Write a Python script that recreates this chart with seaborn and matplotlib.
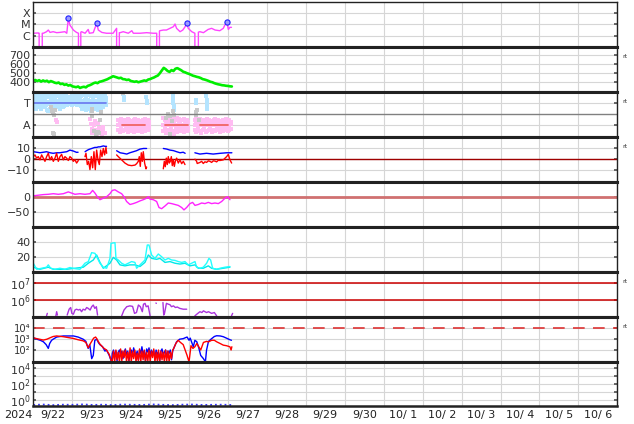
import numpy as np
import pandas as pd
import matplotlib
matplotlib.use("Agg")
import matplotlib.pyplot as plt
from matplotlib.ticker import NullLocator
import seaborn as sns

# ---------------- data (time in days since 2024-09-22 00:00 UT) ----------------
date_labels = ["9/22", "9/23", "9/24", "9/25", "9/26", "9/27", "9/28", "9/29", "9/30",
               "10/ 1", "10/ 2", "10/ 3", "10/ 4", "10/ 5", "10/ 6"]

# X-ray flux (W/m2); 1e-8 = data dropout
flare_points = [(0.00, 1.6e-6), (0.13, 1.7e-6), (0.15, 1.6e-6), (0.15, 1e-8), (0.23, 1e-8), (0.23, 1.6e-6),
                (0.26, 1.6e-6), (0.34, 2.2e-6), (0.385, 3.1e-6), (0.43, 1.9e-6), (0.51, 2.2e-6), (0.60, 1.8e-6),
                (0.68, 1.9e-6), (0.81, 2.2e-6), (0.86, 1.6e-6), (0.90, 3.5e-5), (0.94, 8.7e-6), (1.03, 3.1e-6),
                (1.11, 1.9e-6), (1.16, 1.6e-6), (1.16, 1e-8), (1.22, 1e-8), (1.22, 2.0e-6), (1.24, 2.2e-6),
                (1.33, 1.6e-6), (1.41, 3.5e-6), (1.44, 1.6e-6), (1.54, 1.8e-6), (1.58, 4.4e-6), (1.63, 1.2e-5),
                (1.67, 3.1e-6), (1.76, 1.9e-6), (1.88, 1.6e-6), (2.05, 1.6e-6), (2.14, 4.4e-6), (2.14, 1e-8),
                (2.21, 1e-8), (2.21, 1.8e-6), (2.23, 1.8e-6), (2.31, 2.2e-6), (2.44, 1.6e-6), (2.53, 2.7e-6),
                (2.57, 1.6e-6), (2.74, 1.6e-6), (2.91, 1.8e-6), (3.08, 1.6e-6), (3.17, 1.6e-6), (3.17, 1e-8),
                (3.24, 1e-8), (3.24, 2.5e-6), (3.25, 2.7e-6), (3.34, 3.1e-6), (3.42, 3.1e-6), (3.51, 4.4e-6),
                (3.60, 6.2e-6), (3.64, 1.07e-5), (3.68, 4.4e-6), (3.77, 2.2e-6), (3.84, 3.1e-6), (3.90, 6.2e-6),
                (3.94, 1.2e-5), (3.98, 4.4e-6), (4.07, 2.2e-6), (4.15, 1.6e-6), (4.15, 1e-8), (4.24, 1e-8),
                (4.24, 2.0e-6), (4.28, 2.2e-6), (4.37, 1.8e-6), (4.49, 3.5e-6), (4.58, 4.4e-6), (4.67, 3.1e-6),
                (4.79, 2.7e-6), (4.88, 4.4e-6), (4.92, 8.7e-6), (4.97, 1.5e-5), (5.01, 3.5e-6), (5.05, 5.4e-6),
                (5.09, 5.4e-6)]
flare_peaks = [(0.90, 3.5e-5), (1.63, 1.2e-5), (3.94, 1.2e-5), (4.97, 1.5e-5)]

# solar wind speed (km/s), every 0.05 day
wind_step = 0.05
wind_speed = [410, 420, 408, 418, 402, 415, 405, 412, 396, 408, 400, 390, 385, 392, 375, 380, 366, 372, 358, 365,
              350, 345, 340, 348, 332, 340, 345, 338, 355, 362, 372, 385, 392, 385, 400, 405, 412, 420, 428, 440,
              450, 462, 455, 448, 440, 445, 430, 428, 420, 425, 410, 405, 400, 405, 395, 402, 408, 415, 410, 425,
              430, 440, 448, 460, 470, 495, 525, 555, 540, 520, 510, 530, 520, 545, 552, 540, 528, 512, 505, 495,
              488, 478, 468, 462, 455, 450, 442, 430, 425, 418, 410, 400, 395, 385, 378, 372, 368, 362, 360, 356,
              354, 350, 348]

# IMF sector: T = +1, A = -1
sector_blue_hi = [1.7, 1.5, 1.8, 1.6, 1.9, 1.7, 1.5, 1.8, 1.6, 1.7, 1.9, 1.6, 1.5, 1.8, 1.7, 1.6, 1.9, 1.5, 1.7, 1.8,
                  1.6, 1.7, 1.9, 1.5, 1.6, 1.8, 1.7, 1.5, 1.6, 1.4, 1.5, 1.3, 1.4, 1.6, 1.5, 1.7, 1.4, 1.6, 1.5, 1.3,
                  1.5, 1.6, 1.8, 1.9, 1.7, 1.6, 1.8, 1.9, 1.7, 1.6, 1.8, 1.5, 1.7, 1.9, 1.6, 1.8, 1.5, 1.7, 1.6, 1.8,
                  1.5, 1.6, 1.4]
sector_blue_mid = [1.2, 1.1, 1.3, 1.0, 1.2, 1.4, 1.1, 1.2, 1.3, 1.0, 1.2, 1.1, 1.0, 0.9, 1.1, 1.3, 1.2, 1.0, 1.1, 1.3,
                   1.2, 1.0, 1.1, 1.3, 1.2, 1.1, 1.3, 1.2, 1.3, 1.1, 1.3, 1.2, 1.2, 1.3, 1.2, 1.4, 1.3, 1.2, 1.4, 1.2,
                   1.2, 1.1, 1.0, 1.2, 1.3, 1.1, 1.2, 1.3, 1.1, 1.0, 1.2, 1.3, 1.1, 1.2, 1.0, 1.1, 1.3, 1.2, 1.1, 1.3,
                   1.2, 1.1, 1.2]
sector_blue_lo = [0.6, 0.8, 0.5, 0.9, 0.7, 0.6, 0.8, 0.5, 0.7, 0.9, 0.6, 0.8, 0.4, 0.3, 0.5, 0.7, 0.6, 0.8, 0.5, 0.7,
                  0.6, 0.9, 0.7, 0.5, 0.8, 0.6, 0.7, 0.9, 1.0, 0.8, 1.1, 0.9, 1.0, 0.8, 1.1, 0.9, 1.0, 0.8, 1.2, 1.0,
                  0.9, 0.7, 0.5, 0.6, 0.8, 0.4, 0.6, 0.7, 0.5, 0.3, 0.6, 0.8, 0.5, 0.7, 0.6, 0.4, 0.8, 0.6, 0.5, 0.7,
                  0.6, 0.9, 0.8]
sector_blue_span = (0.0, 1.86)
sector_blue_extra = [(2.31, 1.8), (2.33, 1.5), (2.34, 1.3), (2.90, 1.5), (2.91, 1.2), (2.92, 1.0), (3.58, 1.9),
                     (3.59, 1.6), (3.60, 1.3), (3.60, 1.0), (3.61, 0.7), (3.62, 0.4), (4.17, 1.3), (4.18, 1.0),
                     (4.44, 1.6), (4.45, 1.3), (4.46, 1.0), (4.46, 0.7), (4.47, 0.5)]
pink_spans = [(2.18, 2.98, 21), (3.34, 3.98, 17), (4.15, 5.07, 24)]
pink_hi = [-0.5, -0.6, -0.4, -0.7, -0.5, -0.6, -0.4, -0.5, -0.7, -0.6, -0.5, -0.4, -0.6, -0.5, -0.7, -0.6, -0.5,
           -0.4, -0.6, -0.5, -0.7,
           -0.3, -0.5, -0.4, -0.6, -0.3, -0.5, -0.4, -0.6, -0.5, -0.3, -0.4, -0.6, -0.5, -0.4, -0.6, -0.5, -0.7,
           -0.5, -0.3, -0.6, -0.4, -0.5, -0.7, -0.5, -0.6, -0.4, -0.5, -0.6, -0.7, -0.5, -0.4, -0.6, -0.5, -0.7,
           -0.6, -0.5, -0.6, -0.4, -0.6, -0.5, -0.7]
pink_mid = [-1.0, -0.9, -1.1, -1.0, -0.9, -1.0, -1.1, -0.9, -1.0, -1.1, -0.9, -1.0, -1.0, -1.1, -0.9, -1.0, -1.1,
            -0.9, -1.0, -1.0, -0.9,
            -1.0, -1.1, -0.9, -1.0, -1.0, -1.1, -0.9, -1.0, -1.1, -1.0, -0.9, -1.0, -1.1, -1.0, -0.9, -1.0, -1.1,
            -1.0, -0.9, -1.1, -1.0, -0.9, -1.0, -1.1, -1.0, -0.9, -1.0, -1.1, -1.0, -0.9, -1.0, -1.1, -0.9, -1.0,
            -1.0, -1.1, -0.9, -1.0, -1.1, -1.0, -0.9]
pink_lo = [-1.4, -1.6, -1.3, -1.5, -1.4, -1.2, -1.6, -1.4, -1.3, -1.5, -1.6, -1.3, -1.4, -1.5, -1.3, -1.6, -1.4,
           -1.5, -1.3, -1.4, -1.2,
           -1.5, -1.3, -1.7, -1.4, -1.6, -1.3, -1.5, -1.8, -1.4, -1.6, -1.3, -1.5, -1.4, -1.6, -1.3, -1.5, -1.4,
           -1.4, -1.6, -1.3, -1.5, -1.7, -1.4, -1.3, -1.6, -1.5, -1.4, -1.3, -1.6, -1.4, -1.5, -1.3, -1.4, -1.6,
           -1.3, -1.5, -1.4, -1.3, -1.5, -1.4, -1.3]
pink_extra = [(1.46, -0.4), (1.48, -0.9), (1.50, -1.3), (1.52, -1.7), (1.55, -1.0), (1.58, -0.6), (1.60, -1.4),
              (1.63, -1.8), (1.66, -0.8), (1.70, -1.2), (1.73, -1.6), (1.76, -1.9), (1.78, -1.5), (1.80, -1.1),
              (1.85, -1.7), (0.58, -0.5), (0.60, -0.7)]
gray_points = [(0.45, 0.6), (0.48, 0.3), (0.50, 0.1), (0.52, -0.1), (0.55, 0.4), (0.50, -1.7), (0.52, -1.8),
               (1.50, -0.2), (1.55, -1.5), (1.60, -1.8), (1.65, -1.6), (1.70, -1.7), (1.72, -0.5), (1.75, 0.2),
               (1.50, 0.5), (1.52, 0.3), (2.30, 1.9), (2.31, 1.85), (3.40, -0.3), (3.45, 0.0), (3.50, -0.2),
               (3.55, -0.6), (3.60, 0.3), (3.62, -0.1), (3.50, -1.8), (4.17, 0.2), (4.18, -0.1), (4.20, 0.4),
               (4.25, -0.5)]
sector_toward = [(0.0, 1.87)]
sector_away = [(2.27, 2.87), (3.38, 3.98), (4.27, 5.0)]

# IMF (nT)
bt_segments = [
    [(0, 7), (0.09, 6.5), (0.17, 6), (0.26, 6.5), (0.34, 7), (0.43, 6), (0.51, 5.5), (0.60, 6), (0.68, 6),
     (0.77, 6.5), (0.86, 7), (0.94, 8.5), (1.03, 7.6), (1.11, 6.4), (1.15, 6.5)],
    [(1.33, 7), (1.37, 8), (1.42, 9), (1.46, 9.5), (1.50, 10), (1.54, 10.5), (1.58, 11), (1.63, 11), (1.67, 11.5),
     (1.71, 11.5), (1.76, 12), (1.80, 12.4), (1.84, 12), (1.88, 12)],
    [(2.14, 7.9), (2.23, 6), (2.31, 5.5), (2.40, 4.8), (2.48, 6), (2.57, 7), (2.65, 7.9), (2.74, 9.4), (2.83, 10),
     (2.91, 10)],
    [(3.34, 10), (3.42, 9.5), (3.51, 8.5), (3.60, 8), (3.68, 7), (3.77, 6), (3.85, 6.5), (3.90, 5.5)],
    [(4.15, 6), (4.28, 4.8), (4.45, 5.5), (4.62, 4.8), (4.80, 5.5), (4.97, 6), (5.10, 6)],
]
bz_segments = [
    [(0, 2.4), (0.043, 4), (0.086, 1), (0.128, 2.4), (0.171, -0.6), (0.214, 4), (0.257, 1), (0.30, -2),
     (0.342, 2.4), (0.385, 5.5), (0.428, -0.6), (0.471, 2.4), (0.514, -2), (0.556, 1), (0.599, 5.5),
     (0.642, -2), (0.685, 2.4), (0.728, 4.5), (0.771, -0.6), (0.813, 2.4), (0.856, 1), (0.899, -1.2),
     (0.942, 2.4), (0.985, 1), (1.027, -2), (1.07, -0.6), (1.113, -3.6), (1.156, -1.2)],
    [(1.327, 2.4), (1.353, 5.5), (1.387, -5), (1.421, -2), (1.455, -9.7), (1.49, 2.4), (1.524, -8), (1.558, 7),
     (1.592, -9.7), (1.627, 8.5), (1.661, -0.6), (1.695, -5), (1.729, 8.5), (1.764, 2.4), (1.798, 10),
     (1.832, 4), (1.866, 11), (1.884, 5.5)],
    [(2.14, 4), (2.183, 2.4), (2.269, -0.6), (2.354, -3.6), (2.44, -5.5), (2.526, -6), (2.611, -5.5),
     (2.654, -4.2), (2.697, -2), (2.722, 2.4), (2.748, -6.7), (2.774, 6), (2.80, -2), (2.825, 7), (2.859, -3.6),
     (2.894, -9), (2.911, -7.3)],
    [(3.339, -9), (3.365, -2), (3.39, -7), (3.416, 1), (3.442, -5), (3.467, 2.4), (3.493, -3.6), (3.519, -2),
     (3.545, 2.4), (3.57, -6), (3.596, -0.6), (3.622, -6.7), (3.647, -2), (3.682, 1), (3.724, -3.6),
     (3.767, -0.6), (3.81, -4.2), (3.853, -2), (3.896, -5)],
    [(4.153, 0), (4.195, -2), (4.21, -4), (4.281, -3), (4.324, -2), (4.366, -4), (4.409, -2.4), (4.452, -3),
     (4.495, -1.5), (4.538, -2), (4.58, -3), (4.623, -1.5), (4.666, -1.8), (4.709, -2.5), (4.752, -1),
     (4.795, -1.2), (4.88, -0.6), (4.966, 2.4), (5.009, 4.5), (5.051, -0.6), (5.094, -3.6)],
]

# Dst (nT)
dst_points = [(0, 3), (0.128, 5), (0.257, 7), (0.385, 8), (0.514, 10), (0.642, 8), (0.771, 10), (0.899, 16),
              (0.985, 12), (1.07, 8), (1.199, 10), (1.327, 8), (1.455, 10), (1.524, 21), (1.584, 12), (1.644, 0),
              (1.712, -10), (1.798, -5), (1.884, 0), (1.969, 10), (2.029, 21), (2.098, 23), (2.183, 16),
              (2.269, 10), (2.329, 0), (2.397, -16), (2.483, -26), (2.568, -23), (2.654, -19), (2.74, -14),
              (2.825, -10), (2.911, -5), (2.954, 0), (2.997, -8), (3.082, -10), (3.168, -16), (3.228, -36),
              (3.296, -40), (3.382, -31), (3.467, -21), (3.553, -23), (3.639, -26), (3.724, -29), (3.81, -36),
              (3.87, -44), (3.938, -36), (4.024, -23), (4.092, -19), (4.153, -29), (4.238, -26), (4.324, -21),
              (4.409, -23), (4.495, -19), (4.58, -23), (4.666, -21), (4.752, -23), (4.837, -16), (4.923, -5),
              (4.991, 0), (5.051, -10)]

# geomagnetic activity (two cyan series)
act1_points = [(0, 11.3), (0.086, 3.2), (0.214, 4.6), (0.342, 6), (0.385, 9.1), (0.445, 4.6), (0.556, 3.2),
               (0.685, 4.6), (0.813, 3.2), (0.942, 5.6), (1.07, 4), (1.199, 3.2), (1.327, 11.3), (1.413, 13.5),
               (1.498, 25.4), (1.584, 24.5), (1.627, 20), (1.67, 15.6), (1.712, 11.3), (1.798, 6), (1.884, 4.6),
               (1.969, 17.8), (1.995, 37.8), (2.098, 38.7), (2.123, 17.8), (2.183, 15.6), (2.269, 11.3),
               (2.354, 9.1), (2.44, 11.3), (2.526, 13.5), (2.611, 12.4), (2.654, 4.6), (2.74, 9.1), (2.868, 15.6),
               (2.928, 35.6), (2.971, 35.6), (3.039, 22.3), (3.125, 17.8), (3.211, 23.6), (3.296, 20),
               (3.382, 15.6), (3.467, 17.8), (3.553, 15.6), (3.639, 15.1), (3.724, 13.5), (3.81, 12.4),
               (3.896, 13.5), (3.981, 9.1), (4.067, 11.3), (4.153, 13.5), (4.195, 6), (4.281, 4.6), (4.366, 6),
               (4.452, 11.3), (4.512, 17.8), (4.555, 15.6), (4.606, 4.6), (4.709, 3.2), (4.795, 4.6), (4.923, 6),
               (5.051, 6.9)]
act2_points = [(0, 6), (0.171, 3.2), (0.385, 6), (0.514, 3.2), (0.856, 3.2), (1.284, 6), (1.413, 11.3),
               (1.541, 15.6), (1.627, 22.3), (1.712, 12.4), (1.798, 4.6), (1.969, 11.3), (2.055, 19.1),
               (2.14, 15.6), (2.226, 9.1), (2.354, 7.8), (2.483, 9.1), (2.611, 9.1), (2.74, 6.9), (2.868, 12.4),
               (2.954, 22.3), (3.039, 17.8), (3.168, 16.5), (3.253, 17.8), (3.382, 12.4), (3.51, 13.5),
               (3.639, 11.3), (3.767, 10.2), (3.896, 11.3), (4.024, 7.8), (4.153, 9.1), (4.238, 4.6),
               (4.366, 4.6), (4.495, 7.8), (4.58, 4.6), (4.709, 3.2), (4.88, 4.6), (5.051, 6)]

# electron flux, log10
electron_segments = [
    [(0.34, 5.05), (0.36, 5.2)],
    [(0.58, 5.05), (0.60, 5.3), (0.62, 5.1)],
    [(0.87, 5.1), (0.92, 5.45), (0.96, 5.55), (0.99, 5.2), (1.03, 5.15), (1.07, 5.4), (1.11, 5.45),
     (1.16, 5.4), (1.20, 5.44), (1.24, 5.3), (1.28, 5.45), (1.33, 5.4), (1.37, 5.55), (1.41, 5.5),
     (1.46, 5.4), (1.50, 5.6), (1.54, 5.7), (1.58, 5.5), (1.62, 5.6), (1.65, 5.1)],
    [(2.27, 5.05), (2.33, 5.4), (2.40, 5.6), (2.48, 5.65), (2.55, 5.62), (2.60, 5.2), (2.65, 5.25),
     (2.70, 5.7), (2.75, 5.6), (2.80, 5.3), (2.83, 5.75), (2.87, 5.8), (2.90, 5.6), (2.95, 5.65), (3.00, 5.05)],
    [(3.15, 5.82), (3.16, 5.8)],
    [(3.33, 5.85), (3.35, 5.1), (3.37, 5.2), (3.42, 5.8), (3.47, 5.75), (3.51, 5.72), (3.55, 5.6),
     (3.60, 5.65), (3.65, 5.55), (3.70, 5.58), (3.76, 5.5), (3.85, 5.45), (3.94, 5.45)],
    [(4.15, 5.05), (4.20, 5.15), (4.28, 5.3), (4.33, 5.25), (4.37, 5.35), (4.45, 5.25), (4.50, 5.3),
     (4.58, 5.2), (4.65, 5.25), (4.71, 5.05)],
    [(5.09, 5.05), (5.12, 5.2)],
]

# proton flux, log10
proton_blue_pre = [(0, 3.13), (0.09, 3.0), (0.18, 2.9), (0.26, 2.76), (0.33, 2.5), (0.385, 2.15), (0.42, 2.6),
                   (0.47, 2.9), (0.51, 3.0), (0.60, 3.2), (0.77, 3.3), (0.90, 3.3), (1.03, 3.3), (1.15, 3.2),
                   (1.28, 3.0), (1.35, 2.8), (1.41, 2.15), (1.45, 2.5), (1.50, 1.2), (1.54, 1.5), (1.58, 2.9),
                   (1.63, 3.0), (1.67, 2.7), (1.71, 2.5), (1.78, 2.3), (1.84, 1.9), (1.88, 2.0), (1.95, 1.5),
                   (2.01, 0.9)]
proton_red_pre = [(0, 3.13), (0.09, 3.05), (0.26, 2.92), (0.35, 3.0), (0.43, 3.13), (0.51, 3.25), (0.60, 3.3),
                  (0.77, 3.23), (0.90, 3.15), (1.03, 3.07), (1.15, 2.95), (1.28, 2.85), (1.35, 2.7), (1.41, 2.2),
                  (1.45, 2.5), (1.50, 2.8), (1.55, 3.1), (1.60, 3.2), (1.63, 3.05), (1.70, 2.6), (1.75, 2.4),
                  (1.80, 2.2), (1.88, 2.0), (1.95, 1.6), (2.01, 0.9)]
proton_noise_span = (2.03, 3.58)
proton_red_noise = [1.0, 1.9, 0.9, 2.0, 1.1, 1.8, 0.9, 2.1, 1.0, 1.9, 1.3, 2.0, 0.9, 1.8, 1.0, 2.2, 0.9, 1.9, 1.2,
                    2.0, 0.9, 1.7, 1.0, 2.1, 0.9, 1.9, 1.1, 2.0, 0.9, 1.8, 1.0, 2.0, 0.9, 1.9, 1.3, 2.1, 0.9, 1.8,
                    1.0, 2.0, 0.9, 1.9, 1.1, 1.8, 0.9, 2.0, 1.0, 1.9, 0.9, 1.8, 1.2, 2.0]
proton_blue_noise = [1.7, 2.0, 1.4, 1.9, 1.0, 1.8, 2.0, 1.5, 1.9, 1.2, 1.8, 2.1, 1.6, 1.9, 1.0, 1.7, 2.0, 1.4, 2.2,
                     1.8, 1.5, 1.9, 1.1, 2.0, 1.7, 2.3, 1.6, 1.9, 1.0, 2.1, 1.8, 2.2, 1.5, 2.0, 1.7, 1.9, 1.2, 2.0,
                     1.6, 1.8, 1.0, 1.9, 2.1, 1.5, 1.8, 2.0, 1.3, 1.9, 1.7, 2.0, 1.1, 1.9]
proton_blue_post = [(3.60, 2.1), (3.68, 2.76), (3.76, 3.0), (3.85, 3.05), (3.90, 3.13), (3.95, 3.2), (4.00, 2.9),
                    (4.03, 3.1), (4.11, 2.3), (4.15, 2.9), (4.20, 2.76), (4.25, 2.2), (4.30, 1.5), (4.37, 1.2),
                    (4.42, 0.9), (4.45, 2.0), (4.50, 2.8), (4.58, 3.05), (4.65, 3.25), (4.71, 3.32), (4.80, 3.3),
                    (4.88, 3.23), (4.96, 3.1), (5.05, 2.95), (5.09, 2.9)]
proton_red_post = [(3.60, 2.1), (3.66, 2.6), (3.72, 2.9), (3.78, 2.7), (3.85, 2.5), (3.90, 2.0), (3.95, 1.5),
                   (4.00, 0.9), (4.05, 2.4), (4.10, 2.15), (4.15, 2.3), (4.20, 2.6), (4.25, 2.3), (4.30, 2.0),
                   (4.37, 2.7), (4.45, 2.8), (4.50, 2.75), (4.58, 2.9), (4.65, 2.9), (4.71, 2.76), (4.80, 2.6),
                   (4.88, 2.45), (4.96, 2.4), (5.05, 2.3), (5.08, 2.0), (5.10, 2.3)]

# bottom panel flux
low_flux_span = (0.0, 5.1)
low_flux = [0.24, 0.27, 0.23, 0.26, 0.25, 0.28, 0.24, 0.26, 0.23, 0.27, 0.25, 0.24, 0.28, 0.25, 0.23, 0.26,
            0.27, 0.24, 0.25, 0.26, 0.24]

# ---------------- figure ----------------
sns.set_theme(style="white")
plt.rcParams["font.family"] = ["DejaVu Sans"]
plt.rcParams["axes.unicode_minus"] = True

W, H = 634, 424
fig = plt.figure(figsize=(W / 100, H / 100), dpi=100)
bounds = [2, 46.7, 91.7, 136.7, 181.7, 226.7, 271.7, 316.7, 361.7, 406]
L, R = 33.3, 617.3
axes = []
for i in range(9):
    top, bot = bounds[i], bounds[i + 1]
    axes.append(fig.add_axes([L / W, 1 - bot / H, (R - L) / W, (bot - top) / H]))

GRID = "#d6d6d6"


def line(ax, pts_list, color, lw=1.0, **kw):
    frames = []
    for k, pts in enumerate(pts_list):
        t, v = zip(*pts)
        frames.append(pd.DataFrame({"t": t, "v": v, "seg": k}))
    df = pd.concat(frames, ignore_index=True)
    sns.lineplot(data=df, x="t", y="v", units="seg", estimator=None, sort=False,
                 color=color, lw=lw, ax=ax, legend=False, **kw)


def dots(ax, t, v, color, s=5):
    sns.scatterplot(x=list(t), y=list(v), ax=ax, color=color, marker="s", s=s,
                    linewidth=0, legend=False)


# panel 1: flares
ax = axes[0]
ax.set_yscale("log")
line(ax, [flare_points], "#ff44ff", lw=1.0)
pt, pv = zip(*flare_peaks)
sns.scatterplot(x=list(pt), y=list(pv), ax=ax, marker="o", s=14, color="#9a9aff",
                edgecolor="#2020ff", linewidth=0.8, legend=False, zorder=5)
ax.set_ylim(1e-7, 1e-3)
ax.set_yticks([1e-6, 1e-5, 1e-4])
ax.set_yticklabels(["C", "M", "X"], fontsize=9)

# panel 2: solar wind
ax = axes[1]
wt = np.arange(len(wind_speed)) * wind_step
line(ax, [list(zip(wt, wind_speed))], "#00ee00", lw=1.9)
ax.set_ylim(290, 790)
ax.set_yticks([400, 500, 600, 700])

# panel 3: sector
ax = axes[2]
bt = np.linspace(sector_blue_span[0], sector_blue_span[1], len(sector_blue_hi))
for arr in (sector_blue_hi, sector_blue_mid, sector_blue_lo):
    dots(ax, bt, arr, "#b4e4ff")
et, ev = zip(*sector_blue_extra)
dots(ax, et, ev, "#b4e4ff")
pt_all = np.concatenate([np.linspace(a, b, n) for a, b, n in pink_spans])
for arr in (pink_hi, pink_mid, pink_lo):
    dots(ax, pt_all, arr, "#ffbcf2")
et, ev = zip(*pink_extra)
dots(ax, et, ev, "#ffbcf2")
gt, gv = zip(*gray_points)
dots(ax, gt, gv, "#c8c8c8")
line(ax, [[(a, 1.0), (b, 1.0)] for a, b in sector_toward], "#6f7ff0", lw=1.3)
line(ax, [[(a, -1.0), (b, -1.0)] for a, b in sector_away], "#f06464", lw=1.3)
ax.axhline(0, color="#808080", lw=1.0, zorder=1)
ax.set_ylim(-2, 2)
ax.set_yticks([1, -1])
ax.set_yticklabels(["T", "A"], fontsize=9)

# panel 4: IMF
ax = axes[3]
ax.axhline(0, color="#a00000", lw=1.0, zorder=1)
line(ax, bt_segments, "#0000ff", lw=1.0)
line(ax, bz_segments, "#ff0000", lw=1.0)
ax.set_ylim(-21, 21)
ax.set_yticks([-10, 0, 10])

# panel 5: Dst
ax = axes[4]
ax.axhline(0, color="#d07070", lw=2.0, zorder=1)
line(ax, [dst_points], "#ff22ff", lw=1.0)
ax.set_ylim(-100, 50)
ax.set_yticks([-50, 0])

# panel 6: activity
ax = axes[5]
line(ax, [act2_points], "#00e8e8", lw=1.0)
line(ax, [act1_points], "#22ffff", lw=1.0)
ax.set_ylim(0, 60)
ax.set_yticks([20, 40])

# panel 7: electrons
ax = axes[6]
ax.set_yscale("log")
ax.axhline(1e6, color="#cc0000", lw=1.1, zorder=1)
ax.axhline(1e7, color="#cc0000", lw=1.1, zorder=1)
line(ax, [[(t, 10 ** v) for t, v in seg] for seg in electron_segments], "#aa33dd", lw=1.0)
ax.set_ylim(1e5, 10 ** 7.7)
ax.set_yticks([1e6, 1e7])
ax.set_yticklabels(["$10^6$", "$10^7$"])

# panel 8: protons
ax = axes[7]
ax.set_yscale("log")
ax.axhline(1e4, color="#dd3333", lw=1.2, dashes=(7, 5), zorder=1)
nt = np.linspace(proton_noise_span[0], proton_noise_span[1], len(proton_red_noise))
blue_all = proton_blue_pre + list(zip(nt, proton_blue_noise)) + proton_blue_post
red_all = proton_red_pre + list(zip(nt, proton_red_noise)) + proton_red_post
line(ax, [[(t, 10 ** v) for t, v in blue_all]], "#0000ff", lw=1.0)
line(ax, [[(t, 10 ** v) for t, v in red_all]], "#ff0000", lw=1.0)
ax.set_ylim(10 ** 0.92, 10 ** 5.08)
ax.set_yticks([1e2, 1e3, 1e4])
ax.set_yticklabels(["10\u00b2", "10\u00b3", "10\u2074"])

# panel 9
ax = axes[8]
ax.set_yscale("log")
lt = np.linspace(low_flux_span[0], low_flux_span[1], len(low_flux))
line(ax, [list(zip(lt, low_flux))], "#3a3aff", lw=1.3, linestyle=":")
ax.set_ylim(10 ** -0.75, 10 ** 4.8)
ax.set_yticks([1, 10, 100, 1e3, 1e4])
ax.set_yticklabels(["$10^0$", "", "$10^2$", "", "$10^4$"])

# common styling
for i, ax in enumerate(axes):
    ax.set_xlim(0, 15)
    ax.set_xticks(np.arange(0, 16))
    ax.set_xlabel("")
    ax.set_ylabel("")
    ax.yaxis.set_minor_locator(NullLocator())
    ax.grid(True, which="major", color=GRID, lw=0.8)
    ax.set_axisbelow(True)
    ax.tick_params(axis="x", which="major", length=0, labelbottom=False)
    ax.tick_params(axis="y", which="major", direction="in", length=2.5, left=True, right=True,
                   labelsize=8, pad=2, labelcolor="#333333", color="#555555")
    for s in ("left", "right"):
        ax.spines[s].set_linewidth(1.0)
        ax.spines[s].set_color("#222222")
    ax.spines["top"].set_linewidth(1.0 if i == 0 else 2.2)
    ax.spines["bottom"].set_linewidth(2.2 if i < 8 else 1.8)
    ax.spines["top"].set_color("#222222")
    ax.spines["bottom"].set_color("#222222")

axes[7].tick_params(axis="y", labelsize=7.2, pad=2)

axb = axes[8]
axb.set_xticks(np.arange(0.5, 15, 1), minor=True)
axb.set_xticklabels(date_labels, minor=True)
axb.tick_params(axis="x", which="minor", length=0, labelsize=8, pad=3, labelcolor="#222222")
fig.text(18 / W, 1 - 415 / H, "2024", ha="center", va="center", fontsize=8, color="#222222")

for i in (1, 2, 3, 6, 7):
    fig.text(622 / W, 1 - (bounds[i] + 10) / H, "rt", fontsize=4.5, va="center", ha="left",
             color="#333333")

fig.savefig("out.png", dpi=100)
